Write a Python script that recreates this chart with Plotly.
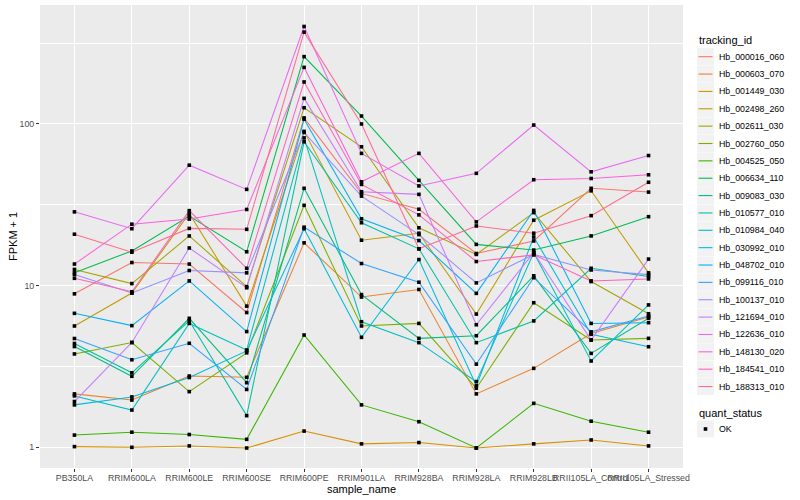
import plotly.graph_objects as go

samples = ["PB350LA", "RRIM600LA", "RRIM600LE", "RRIM600SE", "RRIM600PE", "RRIM901LA",
           "RRIM928BA", "RRIM928LA", "RRIM928LB", "RRII105LA_Control", "RRII105LA_Stressed"]

tracking_ids = ["Hb_000016_060", "Hb_000603_070", "Hb_001449_030", "Hb_002498_260", "Hb_002611_030",
                "Hb_002760_050", "Hb_004525_050", "Hb_006634_110", "Hb_009083_030", "Hb_010577_010",
                "Hb_010984_040", "Hb_030992_010", "Hb_048702_010", "Hb_099116_010", "Hb_100137_010",
                "Hb_121694_010", "Hb_122636_010", "Hb_148130_020", "Hb_184541_010", "Hb_188313_010"]

colors = ["#F8766D", "#EA8331", "#D89000", "#C09B00", "#A3A500", "#7CAE00", "#39B600", "#00BB4E",
          "#00BF7D", "#00C1A3", "#00BFC4", "#00BAE0", "#00B0F6", "#35A2FF", "#9590FF", "#C77CFF",
          "#E76BF3", "#FA62DB", "#FF62BC", "#FF6C91"]

quant_status = ["OK"]

# FPKM + 1 values per sample
hb_000016_060 = [8.9, 13.9, 13.6, 6.82, 109, 37.2, 29.7, 15.8, 18.9, 40.0, 37.9]
hb_000603_070 = [2.14, 1.96, 2.76, 2.71, 18.4, 8.5, 9.47, 2.14, 3.08, 5.05, 6.4]
hb_001449_030 = [1.01, 1.0, 1.02, 0.99, 1.26, 1.05, 1.07, 0.99, 1.05, 1.11, 1.02]
hb_002498_260 = [5.63, 9.0, 28.0, 7.47, 90, 19.1, 21.1, 6.67, 25.4, 38.6, 12.0]
hb_002611_030 = [12.6, 10.3, 20.3, 9.86, 126, 72.3, 22.8, 15.6, 28.3, 10.6, 6.7]
hb_002760_050 = [3.78, 4.45, 2.21, 3.84, 31.4, 5.63, 5.84, 2.32, 7.84, 4.61, 4.72]
hb_004525_050 = [1.19, 1.24, 1.2, 1.12, 4.95, 1.83, 1.44, 0.99, 1.87, 1.45, 1.24]
hb_006634_110 = [12.0, 16.4, 26.9, 16.2, 261, 112, 44.8, 18.0, 16.6, 20.3, 26.7]
hb_009083_030 = [4.2, 2.75, 6.28, 2.51, 40, 8.8, 4.72, 4.9, 11.5, 3.81, 6.28]
hb_010577_010 = [4.39, 2.89, 6.06, 1.57, 77.6, 24.5, 16.9, 4.44, 6.05, 12.8, 11.4]
hb_010984_040 = [2.08, 1.70, 5.84, 4.0, 82.0, 5.98, 4.44, 2.55, 16.0, 3.42, 7.6]
hb_030992_010 = [1.83, 2.05, 2.7, 3.95, 22.5, 4.79, 14.5, 2.4, 20.0, 5.0, 4.19]
hb_048702_010 = [6.74, 5.66, 10.7, 5.2, 107, 25.9, 19.0, 8.96, 29.2, 5.84, 5.9]
hb_099116_010 = [4.71, 3.48, 4.4, 2.28, 23.0, 13.7, 10.5, 3.27, 11.2, 5.18, 6.5]
hb_100137_010 = [11.7, 9.0, 12.4, 12.0, 88.6, 35.8, 20.7, 10.4, 15.6, 12.5, 11.7]
hb_121694_010 = [1.92, 4.45, 17.1, 9.7, 144, 38.1, 36.7, 5.73, 16.0, 4.61, 14.6]
hb_122636_010 = [28.6, 22.5, 55.6, 39.4, 401, 65.8, 41.4, 49.5, 98.5, 50.6, 63.8]
hb_148130_020 = [13.6, 24.0, 25.8, 29.6, 224, 43.9, 65.8, 24.8, 45.2, 46.0, 48.5]
hb_184541_010 = [11.1, 9.17, 29.1, 12.8, 182, 42.3, 27.4, 14.1, 15.5, 10.7, 11.0]
hb_188313_010 = [20.8, 16.1, 22.6, 22.3, 370, 100, 16.9, 23.4, 21.1, 27.1, 43.6]

series = [hb_000016_060, hb_000603_070, hb_001449_030, hb_002498_260, hb_002611_030,
          hb_002760_050, hb_004525_050, hb_006634_110, hb_009083_030, hb_010577_010,
          hb_010984_040, hb_030992_010, hb_048702_010, hb_099116_010, hb_100137_010,
          hb_121694_010, hb_122636_010, hb_148130_020, hb_184541_010, hb_188313_010]

y_ticks = [1, 10, 100]
y_tick_labels = ["1", "10", "100"]
y_minor = [10 ** 0.5, 10 ** 1.5, 10 ** 2.5]

FONT = "Liberation Sans, Arial, sans-serif"
W, H = 800, 500
PL, PR, PT, PB = 40, 683, 5, 468  # panel edges in pixels


def px(x):
    return (x - PL) / (PR - PL)


def py(y):
    return (PB - y) / (PB - PT)


fig = go.Figure()
for name, col, vals in zip(tracking_ids, colors, series):
    fig.add_trace(go.Scatter(x=samples, y=vals, mode="lines", name=name,
                             line=dict(color=col, width=1.05), showlegend=False,
                             hoverinfo="skip"))

all_x = [s for vals in series for s in samples]
all_y = [v for vals in series for v in vals]
fig.add_trace(go.Scatter(x=all_x, y=all_y, mode="markers", name="OK", showlegend=False,
                         marker=dict(symbol="square", size=3.6, color="black")))

# ---- hand-built legend (ggplot style keys) ----
shapes = []
annotations = []
key_l, key_r = 697, 714
annotations.append(dict(text="tracking_id", xref="paper", yref="paper", x=px(697), y=py(40.5),
                        xanchor="left", yanchor="middle", showarrow=False,
                        font=dict(size=11, color="black", family=FONT)))
for i, (name, col) in enumerate(zip(tracking_ids, colors)):
    cy = 56.7 + i * 17.36
    shapes.append(dict(type="rect", xref="paper", yref="paper", x0=px(key_l), x1=px(key_r),
                       y0=py(cy + 8.5), y1=py(cy - 8.5), fillcolor="#F2F2F2", line=dict(width=0),
                       layer="above"))
    shapes.append(dict(type="line", xref="paper", yref="paper", x0=px(key_l + 1.5), x1=px(key_r - 1.5),
                       y0=py(cy), y1=py(cy), line=dict(color=col, width=1.1), layer="above"))
    annotations.append(dict(text=name, xref="paper", yref="paper", x=px(717), y=py(cy),
                            xanchor="left", yanchor="middle", showarrow=False,
                            font=dict(size=8.8, color="black", family=FONT)))

annotations.append(dict(text="quant_status", xref="paper", yref="paper", x=px(697), y=py(412.7),
                        xanchor="left", yanchor="middle", showarrow=False,
                        font=dict(size=11, color="black", family=FONT)))
for i, status in enumerate(quant_status):
    cy = 429 + i * 17.36
    shapes.append(dict(type="rect", xref="paper", yref="paper", x0=px(key_l), x1=px(key_r),
                       y0=py(cy + 8.5), y1=py(cy - 8.5), fillcolor="#F2F2F2", line=dict(width=0),
                       layer="above"))
    shapes.append(dict(type="rect", xref="paper", yref="paper", x0=px(703.7), x1=px(707.3),
                       y0=py(cy + 1.8), y1=py(cy - 1.8), fillcolor="black", line=dict(width=0),
                       layer="above"))
    annotations.append(dict(text=status, xref="paper", yref="paper", x=px(717), y=py(cy),
                            xanchor="left", yanchor="middle", showarrow=False,
                            font=dict(size=8.8, color="black", family=FONT)))

# axis titles
annotations.append(dict(text="sample_name", xref="paper", yref="paper", x=0.5, y=py(489),
                        xanchor="center", yanchor="middle", showarrow=False,
                        font=dict(size=11, color="black", family=FONT)))
annotations.append(dict(text="FPKM + 1", xref="paper", yref="paper", x=px(12.5), y=0.5,
                        xanchor="center", yanchor="middle", showarrow=False, textangle=-90,
                        font=dict(size=11, color="black", family=FONT)))

fig.update_layout(
    width=W, height=H,
    margin=dict(l=PL, r=W - PR, t=PT, b=H - PB, autoexpand=False),
    paper_bgcolor="white", plot_bgcolor="#EBEBEB",
    font=dict(family=FONT, color="black"),
    showlegend=False,
    shapes=shapes, annotations=annotations,
)

fig.update_xaxes(type="category", categoryorder="array", categoryarray=samples,
                 range=[-0.6, len(samples) - 0.4], tickangle=0, automargin=False,
                 showgrid=True, gridcolor="white", gridwidth=1.1,
                 ticks="outside", ticklen=3, tickwidth=1, tickcolor="#333333",
                 ticklabelstandoff=-2,
                 tickfont=dict(size=8.8, color="#4D4D4D"),
                 zeroline=False, showline=False)

fig.update_yaxes(type="log", range=[-0.128, 2.736], automargin=False,
                 tickvals=y_ticks, ticktext=y_tick_labels,
                 showgrid=True, gridcolor="white", gridwidth=1.1,
                 minor=dict(tickvals=y_minor, showgrid=True, gridcolor="white", gridwidth=0.55, ticks=""),
                 ticks="outside", ticklen=3, tickwidth=1, tickcolor="#333333",
                 tickfont=dict(size=8.8, color="#4D4D4D"),
                 zeroline=False, showline=False)

fig.write_html("out.html", config={"displayModeBar": False},
               post_script="document.body.style.margin='0';document.body.style.overflow='hidden';")
